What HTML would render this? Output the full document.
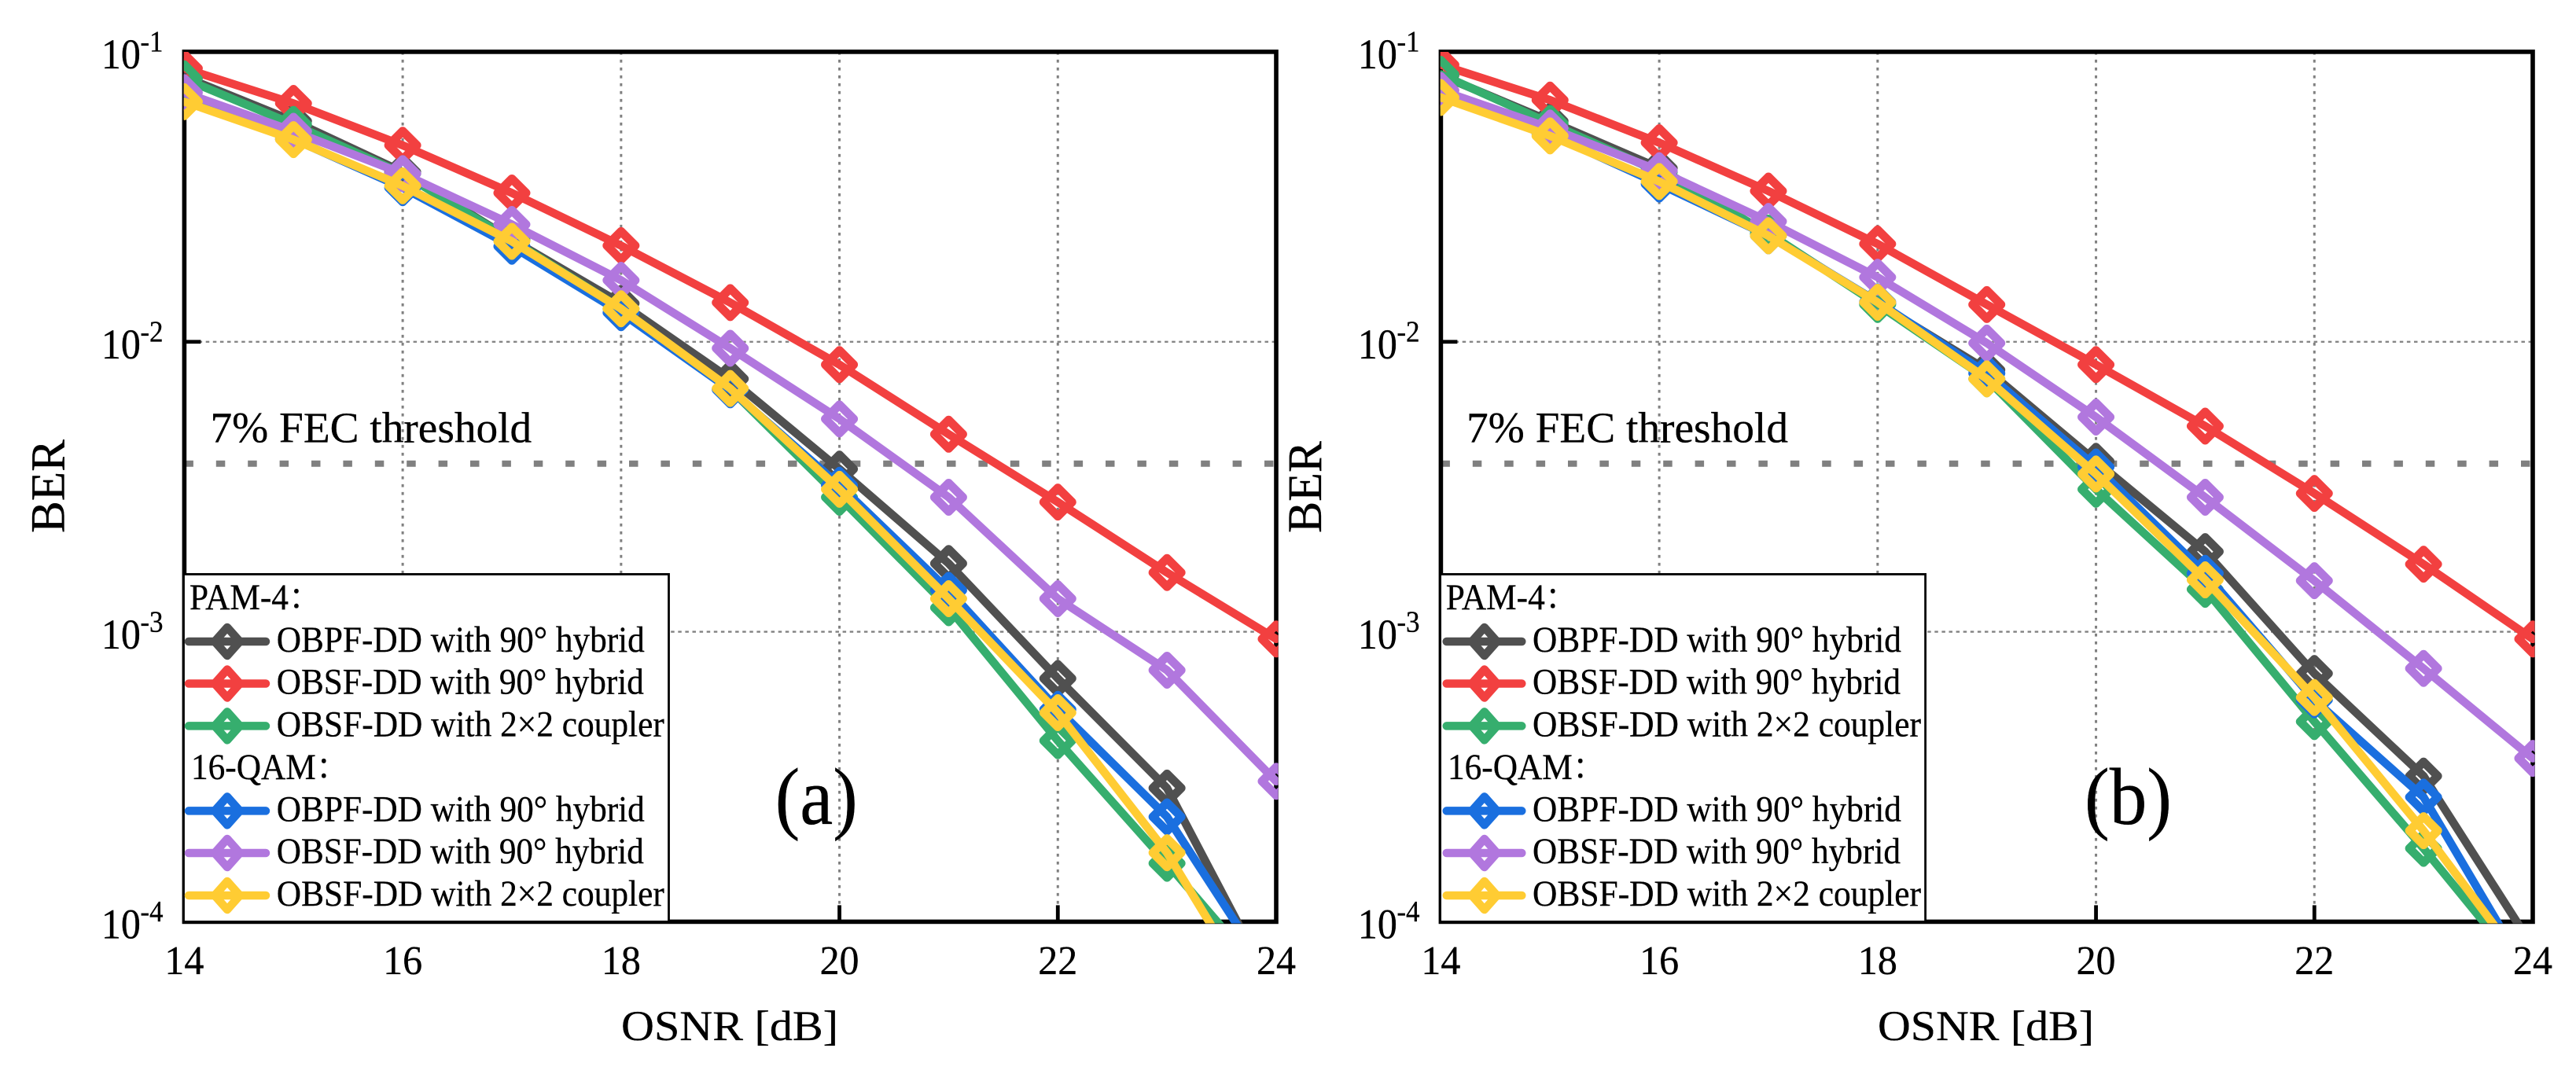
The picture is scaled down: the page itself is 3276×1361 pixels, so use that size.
<!DOCTYPE html>
<html lang="en">
<head>
<meta charset="utf-8">
<title>BER vs OSNR</title>
<style>
html,body{margin:0;padding:0;background:#fff;width:3276px;height:1361px;overflow:hidden}
svg{display:block}
text{font-family:"Liberation Serif","Noto Serif CJK SC",serif;fill:#000;stroke:#000;stroke-width:.3px}
.leg{font-size:43.3px}
.key{fill:none;stroke-linecap:round;stroke-linejoin:round;stroke-width:10.5px}
</style>
</head>
<body>
<svg id="figure" xmlns="http://www.w3.org/2000/svg" width="3276" height="1361" viewBox="0 0 3276 1361">
  <rect x="0" y="0" width="3276" height="1361" fill="#fff"/>
  <defs>
    <clipPath id="clip-a"><rect x="233.7" y="66" width="1391.8" height="1108.5"/></clipPath>
    <clipPath id="clip-b"><rect x="1831.7" y="66" width="1391.8" height="1108.5"/></clipPath>
  </defs>
  <g id="panel-a"></g>
  <g id="panel-b"></g>

  <g id="legend-a">
    <rect x="233.5" y="730.4" width="617" height="442" fill="#fff" stroke="#000" stroke-width="2.8"/>
    <text class="leg" x="241" y="775">PAM-4：</text>
    <g class="key" stroke="#505050"><line x1="240" x2="338" y1="816" y2="816"/><path transform="translate(289,816)" d="M0-18L16 0L0 18L-16 0Z"/></g>
    <text class="leg" x="351.8" y="829" textLength="468" lengthAdjust="spacingAndGlyphs">OBPF-DD with 90° hybrid</text>
    <g class="key" stroke="#F24040"><line x1="240" x2="338" y1="869.5" y2="869.5"/><path transform="translate(289,869.5)" d="M0-18L16 0L0 18L-16 0Z"/></g>
    <text class="leg" x="351.8" y="882.5" textLength="467" lengthAdjust="spacingAndGlyphs">OBSF-DD with 90° hybrid</text>
    <g class="key" stroke="#36AE6E"><line x1="240" x2="338" y1="923.4" y2="923.4"/><path transform="translate(289,923.4)" d="M0-18L16 0L0 18L-16 0Z"/></g>
    <text class="leg" x="351.8" y="936.5" textLength="493" lengthAdjust="spacingAndGlyphs">OBSF-DD with 2×2 coupler</text>
    <text class="leg" x="243" y="991">16-QAM：</text>
    <g class="key" stroke="#1A6FDF"><line x1="240" x2="338" y1="1031.4" y2="1031.4"/><path transform="translate(289,1031.4)" d="M0-18L16 0L0 18L-16 0Z"/></g>
    <text class="leg" x="351.8" y="1044.4" textLength="468" lengthAdjust="spacingAndGlyphs">OBPF-DD with 90° hybrid</text>
    <g class="key" stroke="#B177DE"><line x1="240" x2="338" y1="1085" y2="1085"/><path transform="translate(289,1085)" d="M0-18L16 0L0 18L-16 0Z"/></g>
    <text class="leg" x="351.8" y="1098" textLength="467" lengthAdjust="spacingAndGlyphs">OBSF-DD with 90° hybrid</text>
    <g class="key" stroke="#FFCC33"><line x1="240" x2="338" y1="1139" y2="1139"/><path transform="translate(289,1139)" d="M0-18L16 0L0 18L-16 0Z"/></g>
    <text class="leg" x="351.8" y="1152" textLength="493" lengthAdjust="spacingAndGlyphs">OBSF-DD with 2×2 coupler</text>
  </g>

  <g id="legend-b">
    <rect x="1831.6" y="730.4" width="617" height="442" fill="#fff" stroke="#000" stroke-width="2.8"/>
    <text class="leg" x="1838.8" y="775">PAM-4：</text>
    <g class="key" stroke="#505050"><line x1="1839.7" x2="1935.3" y1="816" y2="816"/><path transform="translate(1887.8,816)" d="M0-18L16 0L0 18L-16 0Z"/></g>
    <text class="leg" x="1949" y="829" textLength="469" lengthAdjust="spacingAndGlyphs">OBPF-DD with 90° hybrid</text>
    <g class="key" stroke="#F24040"><line x1="1839.7" x2="1935.3" y1="869.5" y2="869.5"/><path transform="translate(1887.8,869.5)" d="M0-18L16 0L0 18L-16 0Z"/></g>
    <text class="leg" x="1949" y="882.5" textLength="468" lengthAdjust="spacingAndGlyphs">OBSF-DD with 90° hybrid</text>
    <g class="key" stroke="#36AE6E"><line x1="1839.7" x2="1935.3" y1="923.4" y2="923.4"/><path transform="translate(1887.8,923.4)" d="M0-18L16 0L0 18L-16 0Z"/></g>
    <text class="leg" x="1949" y="936.5" textLength="494" lengthAdjust="spacingAndGlyphs">OBSF-DD with 2×2 coupler</text>
    <text class="leg" x="1841" y="991">16-QAM：</text>
    <g class="key" stroke="#1A6FDF"><line x1="1839.7" x2="1935.3" y1="1031.4" y2="1031.4"/><path transform="translate(1887.8,1031.4)" d="M0-18L16 0L0 18L-16 0Z"/></g>
    <text class="leg" x="1949" y="1044.4" textLength="469" lengthAdjust="spacingAndGlyphs">OBPF-DD with 90° hybrid</text>
    <g class="key" stroke="#B177DE"><line x1="1839.7" x2="1935.3" y1="1085" y2="1085"/><path transform="translate(1887.8,1085)" d="M0-18L16 0L0 18L-16 0Z"/></g>
    <text class="leg" x="1949" y="1098" textLength="468" lengthAdjust="spacingAndGlyphs">OBSF-DD with 90° hybrid</text>
    <g class="key" stroke="#FFCC33"><line x1="1839.7" x2="1935.3" y1="1139" y2="1139"/><path transform="translate(1887.8,1139)" d="M0-18L16 0L0 18L-16 0Z"/></g>
    <text class="leg" x="1949" y="1152" textLength="494" lengthAdjust="spacingAndGlyphs">OBSF-DD with 2×2 coupler</text>
  </g>

  <text class="osnr" x="790" y="1323" font-size="58" textLength="276" lengthAdjust="spacingAndGlyphs">OSNR [dB]</text>
  <text class="osnr" x="2388" y="1323" font-size="58" textLength="275" lengthAdjust="spacingAndGlyphs">OSNR [dB]</text>
  <text transform="translate(81.5,678) rotate(-90)" font-size="61" textLength="119" lengthAdjust="spacingAndGlyphs">BER</text>
  <text transform="translate(1680,678) rotate(-90)" font-size="61" textLength="117" lengthAdjust="spacingAndGlyphs">BER</text>
  <text x="267.5" y="562.5" font-size="55.3" textLength="408.7" lengthAdjust="spacingAndGlyphs">7% FEC threshold</text>
  <text x="1865" y="562.5" font-size="55.3" textLength="409" lengthAdjust="spacingAndGlyphs">7% FEC threshold</text>
  <text class="panel-letter" x="985.7" y="1048" font-size="96" textLength="105" lengthAdjust="spacingAndGlyphs">(a)</text>
  <text class="panel-letter" x="2651" y="1048" font-size="96" textLength="111" lengthAdjust="spacingAndGlyphs">(b)</text>
</svg>
<script>
const osnrValues = [14, 15, 16, 17, 18, 19, 20, 21, 22, 23, 24];
const xTickValues = [14, 16, 18, 20, 22, 24];
const xGridValues = [16, 18, 20, 22];
const yTickExponents = [-1, -2, -3, -4];
const yGridExponents = [-2, -3];
const fecThreshold = 0.0038;

const panelAPam4ObpfHybrid = [0.082, 0.0577, 0.0385, 0.0225, 0.01357, 0.00745, 0.00364, 0.00172, 0.00069, 0.000289, 0.0000555];
const panelAPam4ObsfHybrid = [0.0877, 0.0664, 0.0476, 0.0326, 0.02146, 0.01365, 0.00834, 0.0048, 0.0028, 0.0016, 0.000944];
const panelAPam4ObsfCoupler = [0.0807, 0.0562, 0.038, 0.0224, 0.013, 0.00687, 0.00291, 0.00121, 0.000421, 0.000159, 0.000058];
const panelAQamObpfHybrid = [0.068, 0.05, 0.034, 0.02135, 0.0126, 0.00683, 0.0032, 0.00139, 0.00054, 0.00023, 0.0000605];
const panelAQamObsfHybrid = [0.0723, 0.0532, 0.038, 0.02538, 0.0163, 0.0095, 0.00542, 0.00291, 0.0013, 0.000737, 0.000305];
const panelAQamObsfCoupler = [0.0673, 0.0498, 0.0345, 0.0222, 0.013, 0.0069, 0.0031, 0.0013, 0.000526, 0.000173, 0.0000417];

const panelBPam4ObpfHybrid = [0.083, 0.0577, 0.0397, 0.0235, 0.01357, 0.008, 0.00387, 0.00189, 0.000718, 0.000318, 0.000082];
const panelBPam4ObsfHybrid = [0.0902, 0.0682, 0.0486, 0.0331, 0.02175, 0.01344, 0.00834, 0.00512, 0.003, 0.00171, 0.000944];
const panelBPam4ObsfCoupler = [0.0836, 0.0566, 0.0385, 0.0237, 0.01344, 0.00745, 0.0031, 0.0014, 0.00049, 0.000179, 0.000062];
const panelBQamObpfHybrid = [0.07, 0.052, 0.035, 0.0232, 0.01374, 0.00778, 0.0037, 0.00159, 0.000582, 0.000269, 0.000062];
const panelBQamObsfHybrid = [0.0736, 0.0546, 0.0389, 0.026, 0.0167, 0.0099, 0.0055, 0.00291, 0.0015, 0.000747, 0.000366];
const panelBQamObsfCoupler = [0.0696, 0.0513, 0.0357, 0.0232, 0.01368, 0.00745, 0.0035, 0.00151, 0.000593, 0.000206, 0.0000645];

const seriesNames = ['pam4-obpf-hybrid', 'pam4-obsf-hybrid', 'pam4-obsf-coupler', 'qam16-obpf-hybrid', 'qam16-obsf-hybrid', 'qam16-obsf-coupler'];
const seriesColors = ['#505050', '#F24040', '#36AE6E', '#1A6FDF', '#B177DE', '#FFCC33'];
const panelASeries = [panelAPam4ObpfHybrid, panelAPam4ObsfHybrid, panelAPam4ObsfCoupler, panelAQamObpfHybrid, panelAQamObsfHybrid, panelAQamObsfCoupler];
const panelBSeries = [panelBPam4ObpfHybrid, panelBPam4ObsfHybrid, panelBPam4ObsfCoupler, panelBQamObpfHybrid, panelBQamObsfHybrid, panelBQamObsfCoupler];

const SVG_NS = 'http://www.w3.org/2000/svg';
function make(parent, tag, attrs, text) {
  const node = document.createElementNS(SVG_NS, tag);
  for (const key in attrs) node.setAttribute(key, attrs[key]);
  if (text !== undefined) node.textContent = text;
  parent.appendChild(node);
  return node;
}

function drawPanel(groupId, clipId, prefix, left, right, allSeries) {
  const top = 65.9, bottom = 1172.4;
  const root = document.getElementById(groupId);
  const xScale = v => left + (v - 14) / 10 * (right - left);
  const yScaleExp = e => top + (-1 - e) / 3 * (bottom - top);
  const yScale = v => yScaleExp(Math.log10(v));

  xGridValues.forEach(v => {
    const el = make(root, 'line', {x1: xScale(v), x2: xScale(v), y1: top, y2: bottom, stroke: '#808080', 'stroke-width': 3, 'stroke-dasharray': '3.7 6.3'});
    
    
  });
  yGridExponents.forEach(e => {
    const el = make(root, 'line', {x1: left, x2: right, y1: yScaleExp(e), y2: yScaleExp(e), stroke: '#808080', 'stroke-width': 2.3, 'stroke-dasharray': '4.5 4.6'});
    
    
  });

  const fec = make(root, 'line', {x1: left, x2: right, y1: yScale(fecThreshold), y2: yScale(fecThreshold), stroke: '#808080', 'stroke-width': 8, 'stroke-dasharray': '11.5 28.9'});
  
  

  const frame = make(root, 'rect', {x: left, y: top, width: right - left, height: bottom - top, fill: 'none', stroke: '#000', 'stroke-width': 5.6});
  
  

  xTickValues.forEach(v => {
    const tick = make(root, 'line', {x1: xScale(v), x2: xScale(v), y1: bottom, y2: bottom - 21, stroke: '#000', 'stroke-width': 4.8});
    
    
    const label = make(root, 'text', {transform: 'translate(' + xScale(v) + ',1238.8) scale(1,1.03)', 'font-size': 50, 'text-anchor': 'middle'}, String(v));
    
    
  });

  yTickExponents.forEach(e => {
    const y = yScaleExp(e);
    const tick = make(root, 'line', {x1: left, x2: left + 21, y1: y, y2: y, stroke: '#000', 'stroke-width': 4.8});
    
    
    const base = make(root, 'text', {transform: 'translate(' + (left - 105.5) + ',' + (y + 21.2) + ') scale(1,1.08)', 'font-size': 50}, '10');
    
    
    const power = make(root, 'text', {transform: 'translate(' + (left - 56) + ',' + (y - 0.3) + ') scale(1,1.08)', 'font-size': 35}, String(e));
    
    
  });

  const plot = make(root, 'g', {'clip-path': 'url(#' + clipId + ')'});
  
  

  allSeries.forEach((values, i) => {
    const group = make(plot, 'g', {fill: 'none', stroke: seriesColors[i], 'stroke-linejoin': 'round', 'stroke-linecap': 'round'});
    
    
    const points = values.map((v, k) => xScale(osnrValues[k]).toFixed(2) + ',' + yScale(v).toFixed(2)).join(' ');
    const line = make(group, 'polyline', {points: points, 'stroke-width': 10.5});
    
    
    values.forEach((v, k) => {
      const cx = xScale(osnrValues[k]), cy = yScale(v), r = 18;
      const marker = make(group, 'path', {d: 'M' + cx + ' ' + (cy - r) + 'L' + (cx + r) + ' ' + cy + 'L' + cx + ' ' + (cy + r) + 'L' + (cx - r) + ' ' + cy + 'Z', 'stroke-width': 11});
      
      
    });
  });
}

function stretchText(selector, sy) {
  document.querySelectorAll(selector).forEach(t => {
    const x = t.getAttribute('x'), y = t.getAttribute('y');
    t.removeAttribute('x');
    t.removeAttribute('y');
    t.setAttribute('transform', 'translate(' + x + ',' + y + ') scale(1,' + sy + ')');
  });
}

drawPanel('panel-a', 'clip-a', 'panel-a', 234.4, 1623, panelASeries);
drawPanel('panel-b', 'clip-b', 'panel-b', 1832.4, 3221, panelBSeries);
stretchText('.leg', 1.07);
stretchText('.osnr', 0.93);
stretchText('.panel-letter', 1.07);
</script>
</body>
</html>
